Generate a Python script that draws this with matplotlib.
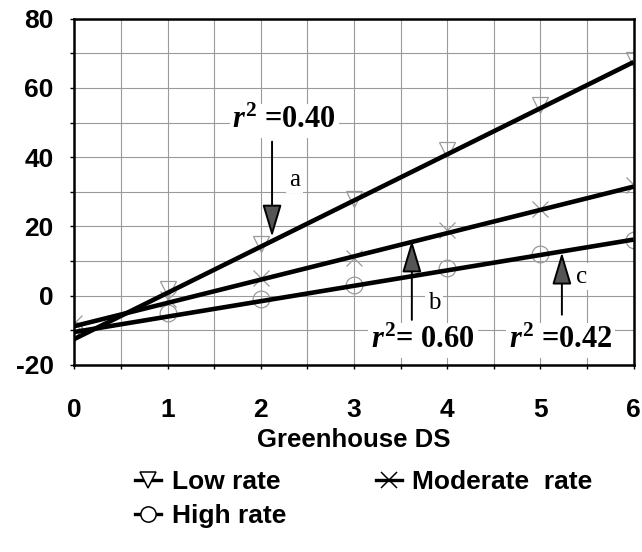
import numpy as np
import matplotlib.pyplot as plt
from matplotlib.lines import Line2D

plt.rcParams['font.family'] = ['Liberation Sans', 'DejaVu Sans']
plt.rcParams['axes.unicode_minus'] = False
plt.rcParams['mathtext.fontset'] = 'custom'
plt.rcParams['mathtext.rm'] = 'Liberation Serif:bold'
plt.rcParams['mathtext.it'] = 'Liberation Serif:italic:bold'

ds = [0, 1, 2, 3, 4, 5, 6]
low_rate = [-11, 2, 15, 28, 42, 55, 68]
moderate_rate = [-8, -1, 5, 11, 19, 25, 32]
high_rate = [-10, -5, -1, 3, 8, 12, 16]

# fitted regression lines, read at x = 0 and x = 6
fit_x = [0, 6]
low_fit = [-12.5, 67.5]
moderate_fit = [-8.8, 31.5]
high_fit = [-10.5, 16.2]

fig = plt.figure(figsize=(6.42, 5.52), dpi=100)
ax = fig.add_axes([0.116, 0.339, 0.871, 0.627])

gc = '#9a9a9a'
ax.plot(ds, low_rate, ls='none', marker='v', ms=12, mfc='none', mec=gc, mew=0.9)
ax.plot(ds, moderate_rate, ls='none', marker='x', ms=12, mec=gc, mew=0.9)
ax.plot(ds, high_rate, ls='none', marker='o', ms=12, mfc='none', mec=gc, mew=0.9)

ax.plot(fit_x, low_fit, color='black', lw=3.3, solid_capstyle='butt')
ax.plot(fit_x, moderate_fit, color='black', lw=3.3, solid_capstyle='butt')
ax.plot(fit_x, high_fit, color='black', lw=3.3, solid_capstyle='butt')

ax.set_xlim(0, 6)
ax.set_ylim(-20, 80)
ax.set_xticks(range(0, 7))
ax.set_xticks(np.arange(0, 6.01, 0.5), minor=True)
ax.set_yticks(range(-20, 81, 20))
ax.set_yticks(range(-20, 81, 10), minor=True)
ax.grid(True, which='both', color=gc, lw=0.8)
ax.set_axisbelow(True)
for s in ax.spines.values():
    s.set_linewidth(1.8)

ax.tick_params(axis='x', which='both', direction='out', length=3, width=1, pad=21,
               labelsize=19)
ax.tick_params(axis='y', which='both', direction='out', length=3, width=1, pad=12,
               labelsize=19)
for lab in ax.get_xticklabels() + ax.get_yticklabels():
    lab.set_fontweight('bold')

ax.set_xlabel('Greenhouse DS', fontsize=18.5, fontweight='bold', labelpad=4)

# annotations
box = dict(facecolor='white', edgecolor='none', pad=2)
aprops = dict(arrowstyle='-|>,head_length=1.0,head_width=0.3', color='black', lw=1.4,
              fc='#555555', mutation_scale=20, shrinkA=0, shrinkB=0)

ax.text(2.25, 50.5, r'$r^2$ =0.40', family='Liberation Serif', fontweight='bold',
        fontsize=22, ha='center', va='center', bbox=box)
ax.annotate('', xy=(2.12, 17), xytext=(2.12, 44.5), arrowprops=aprops)
ax.text(2.36, 33.5, 'a', family='Liberation Serif', fontsize=18,
        ha='center', va='center', bbox=box)

ax.annotate('', xy=(3.62, 16), xytext=(3.62, -7), arrowprops=aprops)
ax.text(3.86, -2, 'b', family='Liberation Serif', fontsize=18,
        ha='center', va='center', bbox=box)
ax.text(3.74, -13, r'$r^2$= 0.60', family='Liberation Serif', fontweight='bold',
        fontsize=22, ha='center', va='center', bbox=box)

ax.annotate('', xy=(5.23, 12.5), xytext=(5.23, -5.5), arrowprops=aprops)
ax.text(5.44, 5.5, 'c', family='Liberation Serif', fontsize=18,
        ha='center', va='center', bbox=box)
ax.text(5.22, -13, r'$r^2$ =0.42', family='Liberation Serif', fontweight='bold',
        fontsize=22, ha='center', va='center', bbox=box)

handles = [
    Line2D([], [], color='black', lw=2.4, marker='v', ms=11, mfc='white', mec='black', mew=1.1),
    Line2D([], [], color='black', lw=2.4, marker='o', ms=11, mfc='white', mec='black', mew=1.1),
    Line2D([], [], color='black', lw=2.4, marker='x', ms=11, mec='black', mew=1.1),
]
fig.legend(handles, ['Low rate', 'High rate', 'Moderate  rate'], ncol=2,
           loc='upper left', bbox_to_anchor=(0.194, 0.168), frameon=False,
           prop=dict(size=19, weight='bold'), handlelength=1.0, handletextpad=0.38,
           columnspacing=3.4, labelspacing=0.4, borderaxespad=0)

fig.savefig('out.png', dpi=100)
